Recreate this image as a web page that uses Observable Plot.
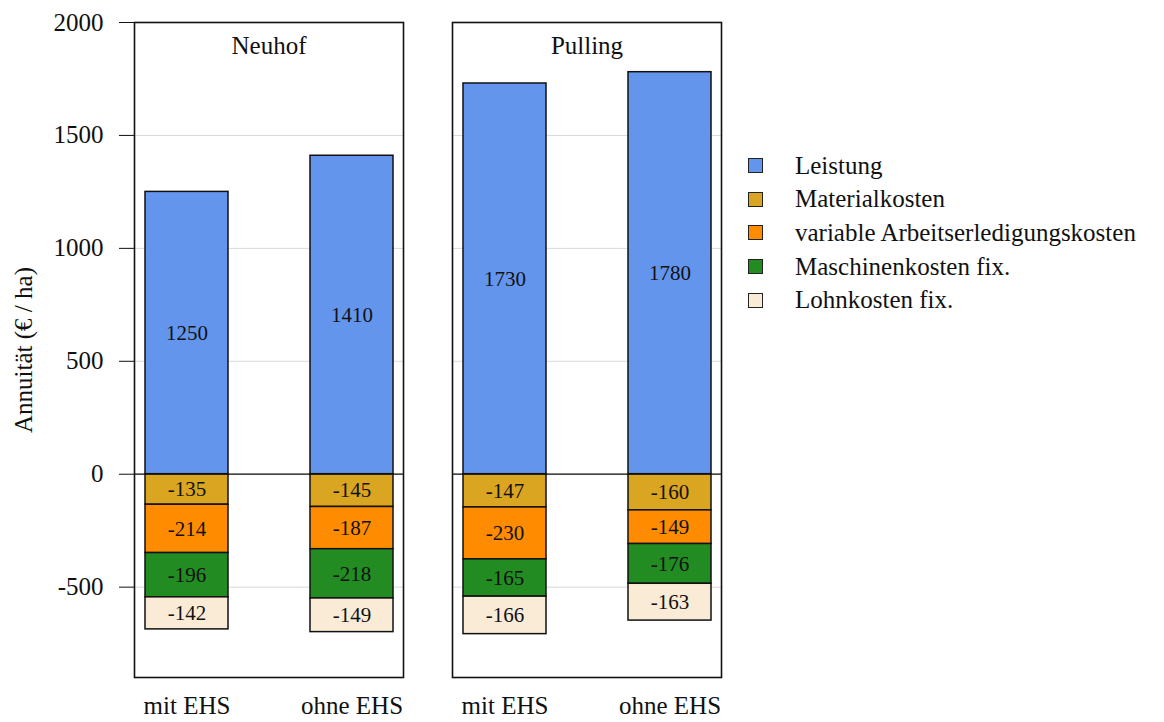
<!DOCTYPE html>
<html>
<head>
<meta charset="utf-8">
<script src="https://cdn.jsdelivr.net/npm/d3@7"></script>
<script src="https://cdn.jsdelivr.net/npm/@observablehq/plot@0.6"></script>
<style>
  html, body { margin: 0; padding: 0; background: #fff; }
  #wrap { position: relative; width: 1164px; height: 722px; overflow: hidden; font-family: "Liberation Serif", "Times New Roman", serif; }
  #legend { position: absolute; left: 748px; top: 149px; }
  .row { display: flex; align-items: center; height: 33.6px; font-size: 25px; color: #111; white-space: nowrap; }
  .sw { width: 13px; height: 13px; border: 1.5px solid #222; box-sizing: content-box; margin-right: 32px; }
</style>
</head>
<body>
<div id="wrap"><div id="legend"></div></div>
<script>
const facets = ["Neuhof", "Pulling"];
const variants = ["mit EHS", "ohne EHS"];
const categories = ["Leistung", "Materialkosten", "variable Arbeitserledigungskosten", "Maschinenkosten fix.", "Lohnkosten fix."];
const colors = ["#6495ED", "#DAA520", "#FF8C00", "#228B22", "#FAEBD7"];
const neuhofMit = [1250, -135, -214, -196, -142];
const neuhofOhne = [1410, -145, -187, -218, -149];
const pullingMit = [1730, -147, -230, -165, -166];
const pullingOhne = [1780, -160, -149, -176, -163];
const yTicks = [-500, 0, 500, 1000, 1500, 2000];

const series = [
  [facets[0], variants[0], neuhofMit],
  [facets[0], variants[1], neuhofOhne],
  [facets[1], variants[0], pullingMit],
  [facets[1], variants[1], pullingOhne]
];
const data = [];
for (const [f, v, vals] of series) {
  vals.forEach((val, i) => data.push({ site: f, variant: v, cat: categories[i], value: val }));
}

const chart = Plot.plot({
  width: 1164,
  height: 722,
  marginLeft: 134,
  marginRight: 443,
  marginTop: 22,
  marginBottom: 45,
  style: { fontFamily: "Liberation Serif, Times New Roman, serif", fontSize: "25px", background: "white", color: "#111" },
  fx: { domain: facets, paddingInner: 0.1546, paddingOuter: 0, axis: null },
  x: { domain: variants, paddingInner: 0.5, paddingOuter: 0.062 },
  y: { domain: [-900, 2000] },
  color: { domain: categories, range: colors },
  marks: [
    Plot.gridY(yTicks, { stroke: "#d9d9d9", strokeOpacity: 1, strokeWidth: 1 }),
    Plot.barY(data, { fx: "site", x: "variant", y: "value", fill: "cat", z: "cat", stroke: "#111", strokeWidth: 1.5, order: null }),
    Plot.text(data, Plot.stackY({ fx: "site", x: "variant", y: "value", z: "cat", order: null, text: d => String(d.value), fontSize: 21, fill: "#111" })),
    Plot.ruleY([0], { stroke: "#111", strokeWidth: 1.3 }),
    Plot.frame({ stroke: "#111", strokeWidth: 1.6 }),
    Plot.text(facets, { fx: d => d, text: d => d, frameAnchor: "top", lineAnchor: "middle", dy: 23, fontSize: 25, fill: "#111" }),
    Plot.axisY({ ticks: yTicks, tickFormat: d => String(d), tickSize: 15, tickPadding: 16, fontSize: 25, stroke: "#111", label: "Annuität (€ / ha)", labelAnchor: "center", labelArrow: "none", labelOffset: 120 }),
    Plot.axisX({ tickSize: 0, tickPadding: 19, fontSize: 25, label: null })
  ]
});
document.getElementById("wrap").prepend(chart);

const legend = document.getElementById("legend");
categories.forEach((c, i) => {
  const row = document.createElement("div");
  row.className = "row";
  const sw = document.createElement("div");
  sw.className = "sw";
  sw.style.background = colors[i];
  const t = document.createElement("span");
  t.textContent = c;
  row.append(sw, t);
  legend.append(row);
});
</script>
</body>
</html>
